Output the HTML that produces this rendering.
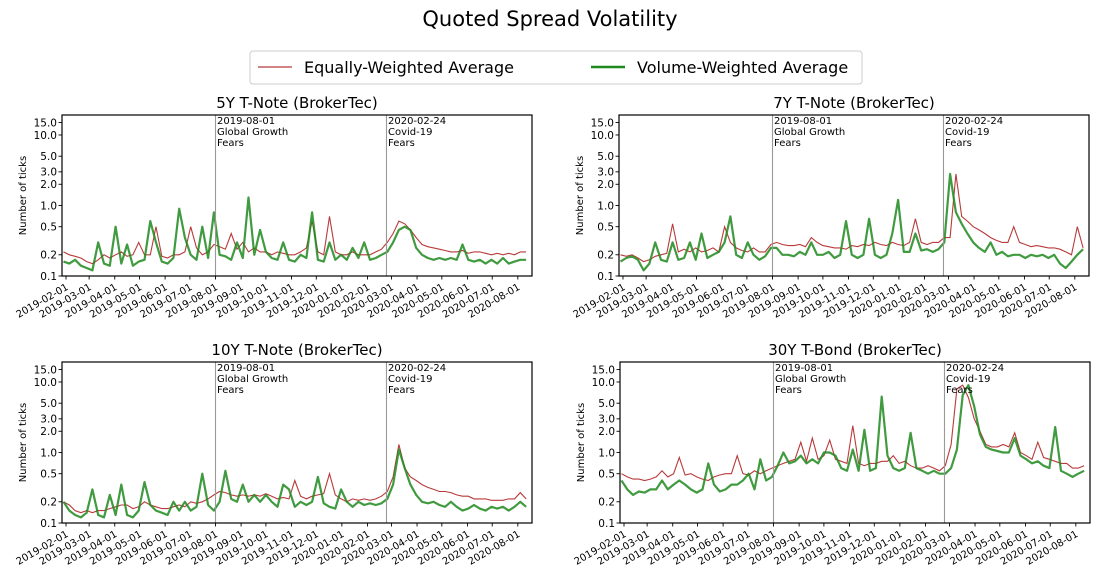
<!DOCTYPE html>
<html><head><meta charset="utf-8">
<style>
html,body{margin:0;padding:0;background:#fff;}
svg{display:block;font-family:"DejaVu Sans","Liberation Sans",sans-serif;}
</style></head>
<body>
<svg id="chart" width="1100" height="576" viewBox="0 0 1100 576" xmlns="http://www.w3.org/2000/svg">
<text x="550" y="26" text-anchor="middle" font-size="21">Quoted Spread Volatility</text>
<g>
<rect x="250" y="51" width="612" height="33" rx="3" fill="#fff" stroke="#ccc"/>
<line x1="258" y1="67" x2="292" y2="67" stroke="#b83a3a" stroke-width="1.3"/>
<text x="304" y="73" font-size="16">Equally-Weighted Average</text>
<line x1="591" y1="67" x2="625" y2="67" stroke="#1e8a1e" stroke-width="2.6"/>
<text x="637" y="73" font-size="16">Volume-Weighted Average</text>
</g>
</svg>
<script>
// Weekly samples starting 2019-01-29, one per 7 days (81 points)
const startDate = "2019-01-29";
const stepDays = 7;
const yTicks = [0.1,0.2,0.5,1,2,3,5,10,15];
const yTickLabels = ["0.1","0.2","0.5","1.0","2.0","3.0","5.0","10.0","15.0"];
const xTickLabels = ["2019-02-01","2019-03-01","2019-04-01","2019-05-01","2019-06-01","2019-07-01","2019-08-01","2019-09-01","2019-10-01","2019-11-01","2019-12-01","2020-01-01","2020-02-01","2020-03-01","2020-04-01","2020-05-01","2020-06-01","2020-07-01","2020-08-01"];
const eventDates = ["2019-08-01","2020-02-24"];
const eventLabels = [["2019-08-01","Global Growth","Fears"],["2020-02-24","Covid-19","Fears"]];
const panelTitles = ["5Y T-Note (BrokerTec)","7Y T-Note (BrokerTec)","10Y T-Note (BrokerTec)","30Y T-Bond (BrokerTec)"];

const ew5 = [0.22,0.2,0.19,0.18,0.16, 0.15,0.17,0.2,0.18,0.2, 0.22,0.19,0.2,0.3,0.2, 0.2,0.5,0.19,0.18,0.2, 0.2,0.22,0.5,0.25,0.2, 0.22,0.28,0.26,0.24,0.4, 0.24,0.3,0.22,0.25,0.22, 0.22,0.2,0.22,0.21,0.2, 0.2,0.22,0.25,0.6,0.22, 0.2,0.7,0.22,0.2,0.2, 0.22,0.2,0.2,0.2,0.22, 0.24,0.3,0.4,0.6,0.55, 0.45,0.35,0.28,0.26,0.25, 0.24,0.23,0.22,0.22,0.23, 0.21,0.22,0.22,0.21,0.2, 0.21,0.2,0.21,0.2,0.22,0.22];
const vw5 = [0.16,0.15,0.17,0.14,0.13, 0.12,0.3,0.15,0.14,0.5, 0.15,0.28,0.14,0.16,0.17, 0.6,0.3,0.16,0.15,0.18, 0.9,0.35,0.2,0.17,0.5, 0.18,0.8,0.2,0.19,0.17, 0.3,0.18,1.3,0.2,0.45, 0.22,0.18,0.17,0.3,0.17, 0.16,0.2,0.18,0.8,0.17, 0.16,0.3,0.17,0.2,0.17, 0.25,0.18,0.3,0.17,0.18, 0.2,0.22,0.3,0.45,0.5, 0.45,0.25,0.2,0.18,0.17, 0.18,0.17,0.18,0.17,0.28, 0.17,0.16,0.17,0.15,0.17, 0.15,0.18,0.15,0.16,0.17,0.17];
const ew7 = [0.2,0.19,0.2,0.18,0.16, 0.17,0.19,0.2,0.21,0.55, 0.22,0.24,0.22,0.25,0.22, 0.23,0.25,0.22,0.5,0.3, 0.25,0.23,0.22,0.25,0.22, 0.22,0.28,0.3,0.28,0.27, 0.27,0.28,0.26,0.35,0.3, 0.27,0.26,0.25,0.25,0.24, 0.27,0.26,0.28,0.27,0.3, 0.28,0.27,0.3,0.28,0.27, 0.3,0.65,0.3,0.28,0.3, 0.3,0.35,0.35,2.8,0.7, 0.6,0.5,0.45,0.4,0.35, 0.32,0.3,0.3,0.5,0.3, 0.28,0.26,0.27,0.26,0.25, 0.25,0.24,0.22,0.2,0.5,0.25];
const vw7 = [0.16,0.18,0.19,0.17,0.12, 0.15,0.3,0.17,0.16,0.3, 0.17,0.18,0.3,0.17,0.4, 0.18,0.2,0.22,0.3,0.7, 0.2,0.18,0.3,0.2,0.17, 0.19,0.25,0.25,0.2,0.2, 0.19,0.22,0.2,0.3,0.2, 0.2,0.22,0.18,0.2,0.6, 0.2,0.18,0.2,0.65,0.2, 0.18,0.2,0.4,1.2,0.22, 0.22,0.4,0.23,0.24,0.22, 0.24,0.3,2.8,0.8,0.55, 0.4,0.3,0.25,0.22,0.3, 0.2,0.22,0.19,0.2,0.2, 0.18,0.2,0.19,0.2,0.18, 0.2,0.15,0.13,0.16,0.2,0.24];
const ew10 = [0.2,0.18,0.15,0.14,0.15, 0.14,0.15,0.15,0.16,0.17, 0.18,0.18,0.16,0.17,0.2, 0.18,0.17,0.16,0.16,0.17, 0.18,0.17,0.2,0.19,0.2, 0.22,0.25,0.28,0.27,0.25, 0.24,0.25,0.24,0.25,0.24, 0.26,0.24,0.22,0.23,0.22, 0.4,0.24,0.22,0.24,0.25, 0.26,0.5,0.25,0.22,0.2, 0.22,0.21,0.22,0.21,0.22, 0.24,0.28,0.45,1.3,0.6, 0.45,0.4,0.35,0.32,0.3, 0.28,0.28,0.27,0.25,0.24, 0.24,0.22,0.22,0.22,0.21, 0.21,0.21,0.22,0.22,0.27,0.22];
const vw10 = [0.2,0.15,0.13,0.12,0.14, 0.3,0.13,0.12,0.25,0.13, 0.35,0.13,0.12,0.15,0.38, 0.18,0.15,0.14,0.13,0.2, 0.15,0.2,0.15,0.17,0.5, 0.18,0.15,0.2,0.55,0.22, 0.2,0.35,0.2,0.25,0.2, 0.25,0.2,0.17,0.35,0.3, 0.17,0.2,0.18,0.2,0.45, 0.19,0.17,0.16,0.3,0.2, 0.17,0.2,0.18,0.19,0.18, 0.19,0.22,0.35,1.1,0.6, 0.35,0.25,0.2,0.19,0.2, 0.18,0.17,0.2,0.17,0.15, 0.16,0.18,0.16,0.15,0.17, 0.16,0.17,0.15,0.17,0.2,0.17];
const ew30 = [0.5,0.45,0.42,0.42,0.4, 0.42,0.45,0.55,0.45,0.5, 0.85,0.48,0.5,0.45,0.42, 0.4,0.45,0.48,0.5,0.5, 0.9,0.5,0.48,0.55,0.5, 0.55,0.6,0.65,0.7,0.75, 0.8,1.4,0.75,1.6,0.8, 0.9,1.5,0.8,0.75,0.7, 2.4,0.7,0.65,0.7,0.7, 0.75,0.75,0.9,0.7,0.75, 0.65,0.6,0.6,0.65,0.6, 0.55,0.65,1.3,8.0,9.0, 6.0,3.0,2.0,1.3,1.2, 1.2,1.3,1.2,1.9,1.0, 0.9,0.8,1.4,0.85,0.8, 0.75,0.7,0.7,0.6,0.6,0.65];
const vw30 = [0.4,0.3,0.25,0.28,0.27, 0.3,0.3,0.4,0.3,0.35, 0.4,0.35,0.3,0.27,0.3, 0.7,0.35,0.28,0.3,0.35, 0.35,0.4,0.5,0.3,0.8, 0.4,0.45,0.65,1.0,0.7, 0.75,0.9,0.7,0.8,0.7, 1.0,1.0,0.9,0.6,0.55, 1.1,0.55,2.1,0.55,0.6, 6.2,0.9,0.6,0.55,0.6, 1.9,0.6,0.55,0.5,0.55, 0.5,0.5,0.6,1.1,6.5, 9.0,4.5,1.8,1.2,1.1, 1.05,1.0,1.0,1.6,0.9, 0.8,0.7,0.75,0.65,0.6, 2.3,0.55,0.5,0.45,0.5,0.55];

const ewSeries = [ew5, ew7, ew10, ew30];
const vwSeries = [vw5, vw7, vw10, vw30];
const panelNames = ["5y","7y","10y","30y"];

const NS = "http://www.w3.org/2000/svg";
const svg = document.getElementById("chart");
const boxes = [{x:62,y:115},{x:619,y:115},{x:62,y:362},{x:620,y:362}];
const W = 470, H = 161;
const origin = Date.UTC(2019,1,1);
function dayOf(s){const p=s.split("-");return (Date.UTC(+p[0],+p[1]-1,+p[2])-origin)/86400000;}
const startDay = dayOf(startDate);
const yMin = Math.log10(0.1), yMax = Math.log10(19.2);
function mk(tag, attrs, parent){const e=document.createElementNS(NS,tag);for(const k in attrs)e.setAttribute(k,attrs[k]);(parent||svg).appendChild(e);return e;}

boxes.forEach((b,pi)=>{
  const xS = d => b.x + 4 + d*0.826;
  const yS = v => b.y + H - (Math.log10(v)-yMin)/(yMax-yMin)*H;
  const g = mk("g",{});
  
  
  const t = mk("text",{x:b.x+W/2,y:b.y-7,"text-anchor":"middle","font-size":"15"},g);
  t.textContent = panelTitles[pi];
  
  
  const yl = mk("text",{x:0,y:0,"font-size":"10","text-anchor":"middle",transform:`translate(${b.x-36},${b.y+H/2}) rotate(-90)`},g);
  yl.textContent = "Number of ticks";
  
  
  yTicks.forEach((v,i)=>{
    const y = yS(v);
    const tk = mk("line",{x1:b.x-3.5,x2:b.x,y1:y,y2:y,stroke:"#000","stroke-width":"0.9"},g);
    
    
    const tl = mk("text",{x:b.x-5,y:y+3.8,"font-size":"10.5","text-anchor":"end"},g);
    tl.textContent = yTickLabels[i];
    
    
  });
  xTickLabels.forEach(lab=>{
    const x = xS(dayOf(lab));
    const tk = mk("line",{x1:x,x2:x,y1:b.y+H,y2:b.y+H+3.5,stroke:"#000","stroke-width":"0.9"},g);
    
    
    const tl = mk("text",{x:0,y:0,"font-size":"10","text-anchor":"end",transform:`translate(${x+3},${b.y+H+13}) rotate(-30)`},g);
    tl.textContent = lab;
    
    
  });
  const cp = mk("clipPath",{id:"clip"+pi},g);
  mk("rect",{x:b.x,y:b.y,width:W,height:H},cp);
  const mkPath = arr => arr.map((v,i)=>(i?"L":"M")+xS(startDay+i*stepDays).toFixed(1)+","+yS(v).toFixed(1)).join("");
  const pe = mk("path",{d:mkPath(ewSeries[pi]),fill:"none",stroke:"#b83a3a","stroke-width":"1.1","clip-path":`url(#clip${pi})`},g);
  
  
  const pv = mk("path",{d:mkPath(vwSeries[pi]),fill:"none",stroke:"#1e8a1e","stroke-opacity":"0.85","stroke-width":"2.2","stroke-linejoin":"round","clip-path":`url(#clip${pi})`},g);
  
  
  eventDates.forEach((d,ei)=>{
    const x = xS(dayOf(d));
    const el = mk("line",{x1:x,x2:x,y1:b.y,y2:b.y+H,stroke:"#999","stroke-width":"1.1"},g);
    
    
    eventLabels[ei].forEach((s,li)=>{
      const et = mk("text",{x:x+1.5,y:b.y+9+li*11,"font-size":"10"},g);
      et.textContent = s;
      
      
    });
  });
  const fr = mk("rect",{x:b.x,y:b.y,width:W,height:H,fill:"none",stroke:"#000","stroke-width":"1.2"},g);
  
  
});
</script>
</body></html>
